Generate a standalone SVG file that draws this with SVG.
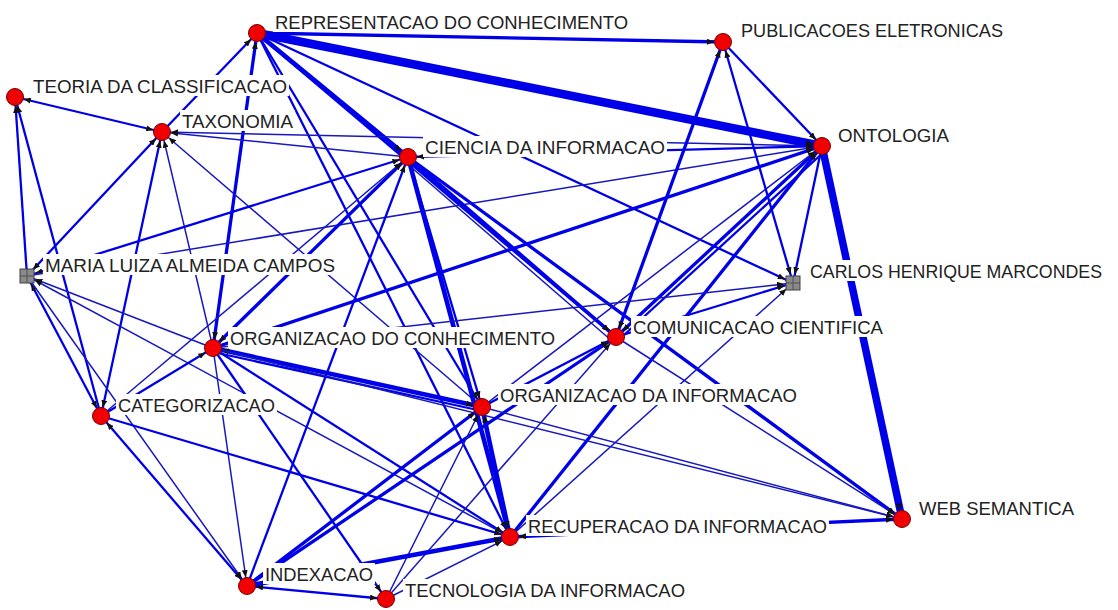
<svg xmlns="http://www.w3.org/2000/svg" width="1118" height="610" viewBox="0 0 1118 610">
<style>
.e{stroke:#0000e8;fill:none;stroke-linecap:butt}
.e1{stroke-width:1.5;stroke:#1818c0}
.e2{stroke-width:2.3}
.e3{stroke-width:3.3}
.e4{stroke-width:4.6}
.e5{stroke-width:7.5}
.e6{stroke-width:8.5}
.a{marker-end:url(#ah)}
.b{marker-start:url(#ah);marker-end:url(#ah)}
.lb{fill:#fff}
.t{font-family:"Liberation Sans",Arial,sans-serif;font-size:19px;fill:#222}
.n{fill:#f00000;stroke:#700;stroke-width:1}
.sq{fill:#8a8a8a;stroke:#404040;stroke-width:1}
.gr{stroke:#505050;stroke-width:1}
</style>
<defs>
<marker id="ah" markerUnits="userSpaceOnUse" viewBox="0 0 7 6" markerWidth="7" markerHeight="6" refX="16" refY="3" orient="auto-start-reverse">
<path d="M0,0 L7,3 L0,6 z" fill="#111"/>
</marker>
</defs>
<rect width="1118" height="610" fill="#fff"/>
<g id="connectors" class="e">
<line class="e e3 a" x1="257" y1="33" x2="723" y2="42"/>
<line class="e e6 a" x1="257" y1="33" x2="822" y2="146"/>
<line class="e e4 a" x1="257" y1="33" x2="408" y2="157"/>
<line class="e e3 a" x1="257" y1="33" x2="616" y2="337"/>
<line class="e e2 a" x1="257" y1="33" x2="482" y2="407"/>
<line class="e e2 a" x1="257" y1="33" x2="510" y2="537"/>
<line class="e e2 a" x1="257" y1="33" x2="793" y2="283"/>
<line class="e e3 b" x1="213" y1="348" x2="257" y2="33"/>
<line class="e e2 a" x1="162" y1="132" x2="257" y2="33"/>
<line class="e e2 b" x1="162" y1="132" x2="15" y2="97"/>
<line class="e e2 a" x1="27" y1="276" x2="15" y2="97"/>
<line class="e e2 a" x1="101" y1="416" x2="15" y2="97"/>
<line class="e e1 a" x1="822" y1="146" x2="162" y2="132"/>
<line class="e e1 a" x1="408" y1="157" x2="162" y2="132"/>
<line class="e e2 b" x1="27" y1="276" x2="162" y2="132"/>
<line class="e e2 b" x1="101" y1="416" x2="162" y2="132"/>
<line class="e e1 a" x1="213" y1="348" x2="162" y2="132"/>
<line class="e e1 a" x1="482" y1="407" x2="162" y2="132"/>
<line class="e e2 b" x1="27" y1="276" x2="408" y2="157"/>
<line class="e e1 a" x1="27" y1="276" x2="822" y2="146"/>
<line class="e e2 b" x1="101" y1="416" x2="27" y2="276"/>
<line class="e e1 a" x1="27" y1="276" x2="247" y2="586"/>
<line class="e e1 a" x1="213" y1="348" x2="27" y2="276"/>
<line class="e e1 a" x1="510" y1="537" x2="27" y2="276"/>
<line class="e e2 b" x1="408" y1="157" x2="822" y2="146"/>
<line class="e e3 a" x1="408" y1="157" x2="616" y2="337"/>
<line class="e e1" x1="404" y1="161" x2="612" y2="341"/>
<line class="e e4 a" x1="408" y1="157" x2="510" y2="537"/>
<line class="e e2 a" x1="408" y1="157" x2="482" y2="407"/>
<line class="e e3 b" x1="213" y1="348" x2="408" y2="157"/>
<line class="e e1 a" x1="101" y1="416" x2="408" y2="157"/>
<line class="e e2 a" x1="247" y1="586" x2="408" y2="157"/>
<line class="e e3 a" x1="408" y1="157" x2="902" y2="519"/>
<line class="e e2 a" x1="723" y1="42" x2="822" y2="146"/>
<line class="e e3 a" x1="213" y1="348" x2="822" y2="146"/>
<line class="e e3 b" x1="616" y1="337" x2="822" y2="146"/>
<line class="e e2" x1="624" y1="335" x2="826" y2="150"/>
<line class="e e2 a" x1="822" y1="146" x2="793" y2="283"/>
<line class="e e5 a" x1="822" y1="146" x2="902" y2="519"/>
<line class="e e3 a" x1="510" y1="537" x2="822" y2="146"/>
<line class="e e1 a" x1="482" y1="407" x2="822" y2="146"/>
<line class="e e3 b" x1="723" y1="42" x2="616" y2="337"/>
<line class="e e2 b" x1="723" y1="42" x2="793" y2="283"/>
<line class="e e1 a" x1="213" y1="348" x2="793" y2="283"/>
<line class="e e2 a" x1="616" y1="337" x2="793" y2="283"/>
<line class="e e1 a" x1="510" y1="537" x2="793" y2="283"/>
<line class="e e4 b" x1="213" y1="348" x2="482" y2="407"/>
<line class="e e2" x1="213" y1="352" x2="482" y2="411"/>
<line class="e e2 a" x1="213" y1="348" x2="510" y2="537"/>
<line class="e e1 a" x1="213" y1="348" x2="902" y2="519"/>
<line class="e e1 a" x1="213" y1="348" x2="247" y2="586"/>
<line class="e e2 a" x1="213" y1="348" x2="386" y2="599"/>
<line class="e e2 a" x1="101" y1="416" x2="213" y2="348"/>
<line class="e e2 a" x1="482" y1="407" x2="616" y2="337"/>
<line class="e e3 a" x1="247" y1="586" x2="616" y2="337"/>
<line class="e e1 a" x1="386" y1="599" x2="616" y2="337"/>
<line class="e e1 a" x1="616" y1="337" x2="902" y2="519"/>
<line class="e e2 b" x1="101" y1="416" x2="247" y2="586"/>
<line class="e e2 a" x1="101" y1="416" x2="510" y2="537"/>
<line class="e e4 b" x1="482" y1="407" x2="510" y2="537"/>
<line class="e e1 a" x1="482" y1="407" x2="902" y2="519"/>
<line class="e e3 a" x1="247" y1="586" x2="482" y2="407"/>
<line class="e e1 a" x1="386" y1="599" x2="482" y2="407"/>
<line class="e e3 b" x1="510" y1="537" x2="902" y2="519"/>
<line class="e e4 a" x1="247" y1="586" x2="510" y2="537"/>
<line class="e e1 a" x1="386" y1="599" x2="510" y2="537"/>
<line class="e e2 b" x1="247" y1="586" x2="386" y2="599"/>
</g>
<g id="node-rc"><rect class="lb" x="273" y="11" width="357" height="21"/><text class="t" x="275" y="29" textLength="353" lengthAdjust="spacingAndGlyphs">REPRESENTACAO DO CONHECIMENTO</text><circle class="n" cx="257" cy="33" r="8.5"/></g>
<g id="node-pe"><rect class="lb" x="739" y="19" width="266" height="21"/><text class="t" x="741" y="37" textLength="262" lengthAdjust="spacingAndGlyphs">PUBLICACOES ELETRONICAS</text><circle class="n" cx="723" cy="42" r="8.5"/></g>
<g id="node-tc"><rect class="lb" x="31" y="75" width="258" height="21"/><text class="t" x="33" y="93" textLength="254" lengthAdjust="spacingAndGlyphs">TEORIA DA CLASSIFICACAO</text><circle class="n" cx="15" cy="97" r="8.5"/></g>
<g id="node-tx"><rect class="lb" x="180" y="110" width="115" height="21"/><text class="t" x="182" y="128" textLength="111" lengthAdjust="spacingAndGlyphs">TAXONOMIA</text><circle class="n" cx="162" cy="132" r="8.5"/></g>
<g id="node-ci"><rect class="lb" x="423" y="136" width="244" height="21"/><text class="t" x="425" y="154" textLength="240" lengthAdjust="spacingAndGlyphs">CIENCIA DA INFORMACAO</text><circle class="n" cx="408" cy="157" r="8.5"/></g>
<g id="node-on"><rect class="lb" x="836" y="124" width="115" height="21"/><text class="t" x="838" y="142" textLength="111" lengthAdjust="spacingAndGlyphs">ONTOLOGIA</text><circle class="n" cx="822" cy="146" r="8.5"/></g>
<g id="node-mc"><rect class="lb" x="43" y="254" width="294" height="21"/><text class="t" x="45" y="272" textLength="290" lengthAdjust="spacingAndGlyphs">MARIA LUIZA ALMEIDA CAMPOS</text><rect class="sq" x="20" y="269" width="14" height="14"/><path class="gr" d="M27,269 V283 M20,276 H34"/></g>
<g id="node-ch"><rect class="lb" x="808" y="260" width="298" height="21"/><text class="t" x="810" y="278" style="font-size:17.5px" textLength="292" lengthAdjust="spacingAndGlyphs">CARLOS HENRIQUE MARCONDES</text><rect class="sq" x="786" y="276" width="14" height="14"/><path class="gr" d="M793,276 V290 M786,283 H800"/></g>
<g id="node-oc"><rect class="lb" x="228" y="327" width="329" height="21"/><text class="t" x="230" y="345" textLength="325" lengthAdjust="spacingAndGlyphs">ORGANIZACAO DO CONHECIMENTO</text><circle class="n" cx="213" cy="348" r="8.5"/></g>
<g id="node-cc"><rect class="lb" x="631" y="316" width="254" height="21"/><text class="t" x="633" y="334" textLength="250" lengthAdjust="spacingAndGlyphs">COMUNICACAO CIENTIFICA</text><circle class="n" cx="616" cy="337" r="8.5"/></g>
<g id="node-ca"><rect class="lb" x="116" y="394" width="161" height="21"/><text class="t" x="118" y="412" textLength="157" lengthAdjust="spacingAndGlyphs">CATEGORIZACAO</text><circle class="n" cx="101" cy="416" r="8.5"/></g>
<g id="node-oi"><rect class="lb" x="498" y="384" width="301" height="21"/><text class="t" x="500" y="402" textLength="297" lengthAdjust="spacingAndGlyphs">ORGANIZACAO DA INFORMACAO</text><circle class="n" cx="482" cy="407" r="8.5"/></g>
<g id="node-ws"><rect class="lb" x="917" y="497" width="159" height="21"/><text class="t" x="919" y="515" textLength="155" lengthAdjust="spacingAndGlyphs">WEB SEMANTICA</text><circle class="n" cx="902" cy="519" r="8.5"/></g>
<g id="node-ri"><rect class="lb" x="526" y="515" width="303" height="21"/><text class="t" x="528" y="533" textLength="299" lengthAdjust="spacingAndGlyphs">RECUPERACAO DA INFORMACAO</text><circle class="n" cx="510" cy="537" r="8.5"/></g>
<g id="node-in"><rect class="lb" x="263" y="563" width="112" height="21"/><text class="t" x="265" y="581" textLength="108" lengthAdjust="spacingAndGlyphs">INDEXACAO</text><circle class="n" cx="247" cy="586" r="8.5"/></g>
<g id="node-ti"><rect class="lb" x="403" y="579" width="284" height="21"/><text class="t" x="405" y="597" textLength="280" lengthAdjust="spacingAndGlyphs">TECNOLOGIA DA INFORMACAO</text><circle class="n" cx="386" cy="599" r="8.5"/></g>
</svg>
